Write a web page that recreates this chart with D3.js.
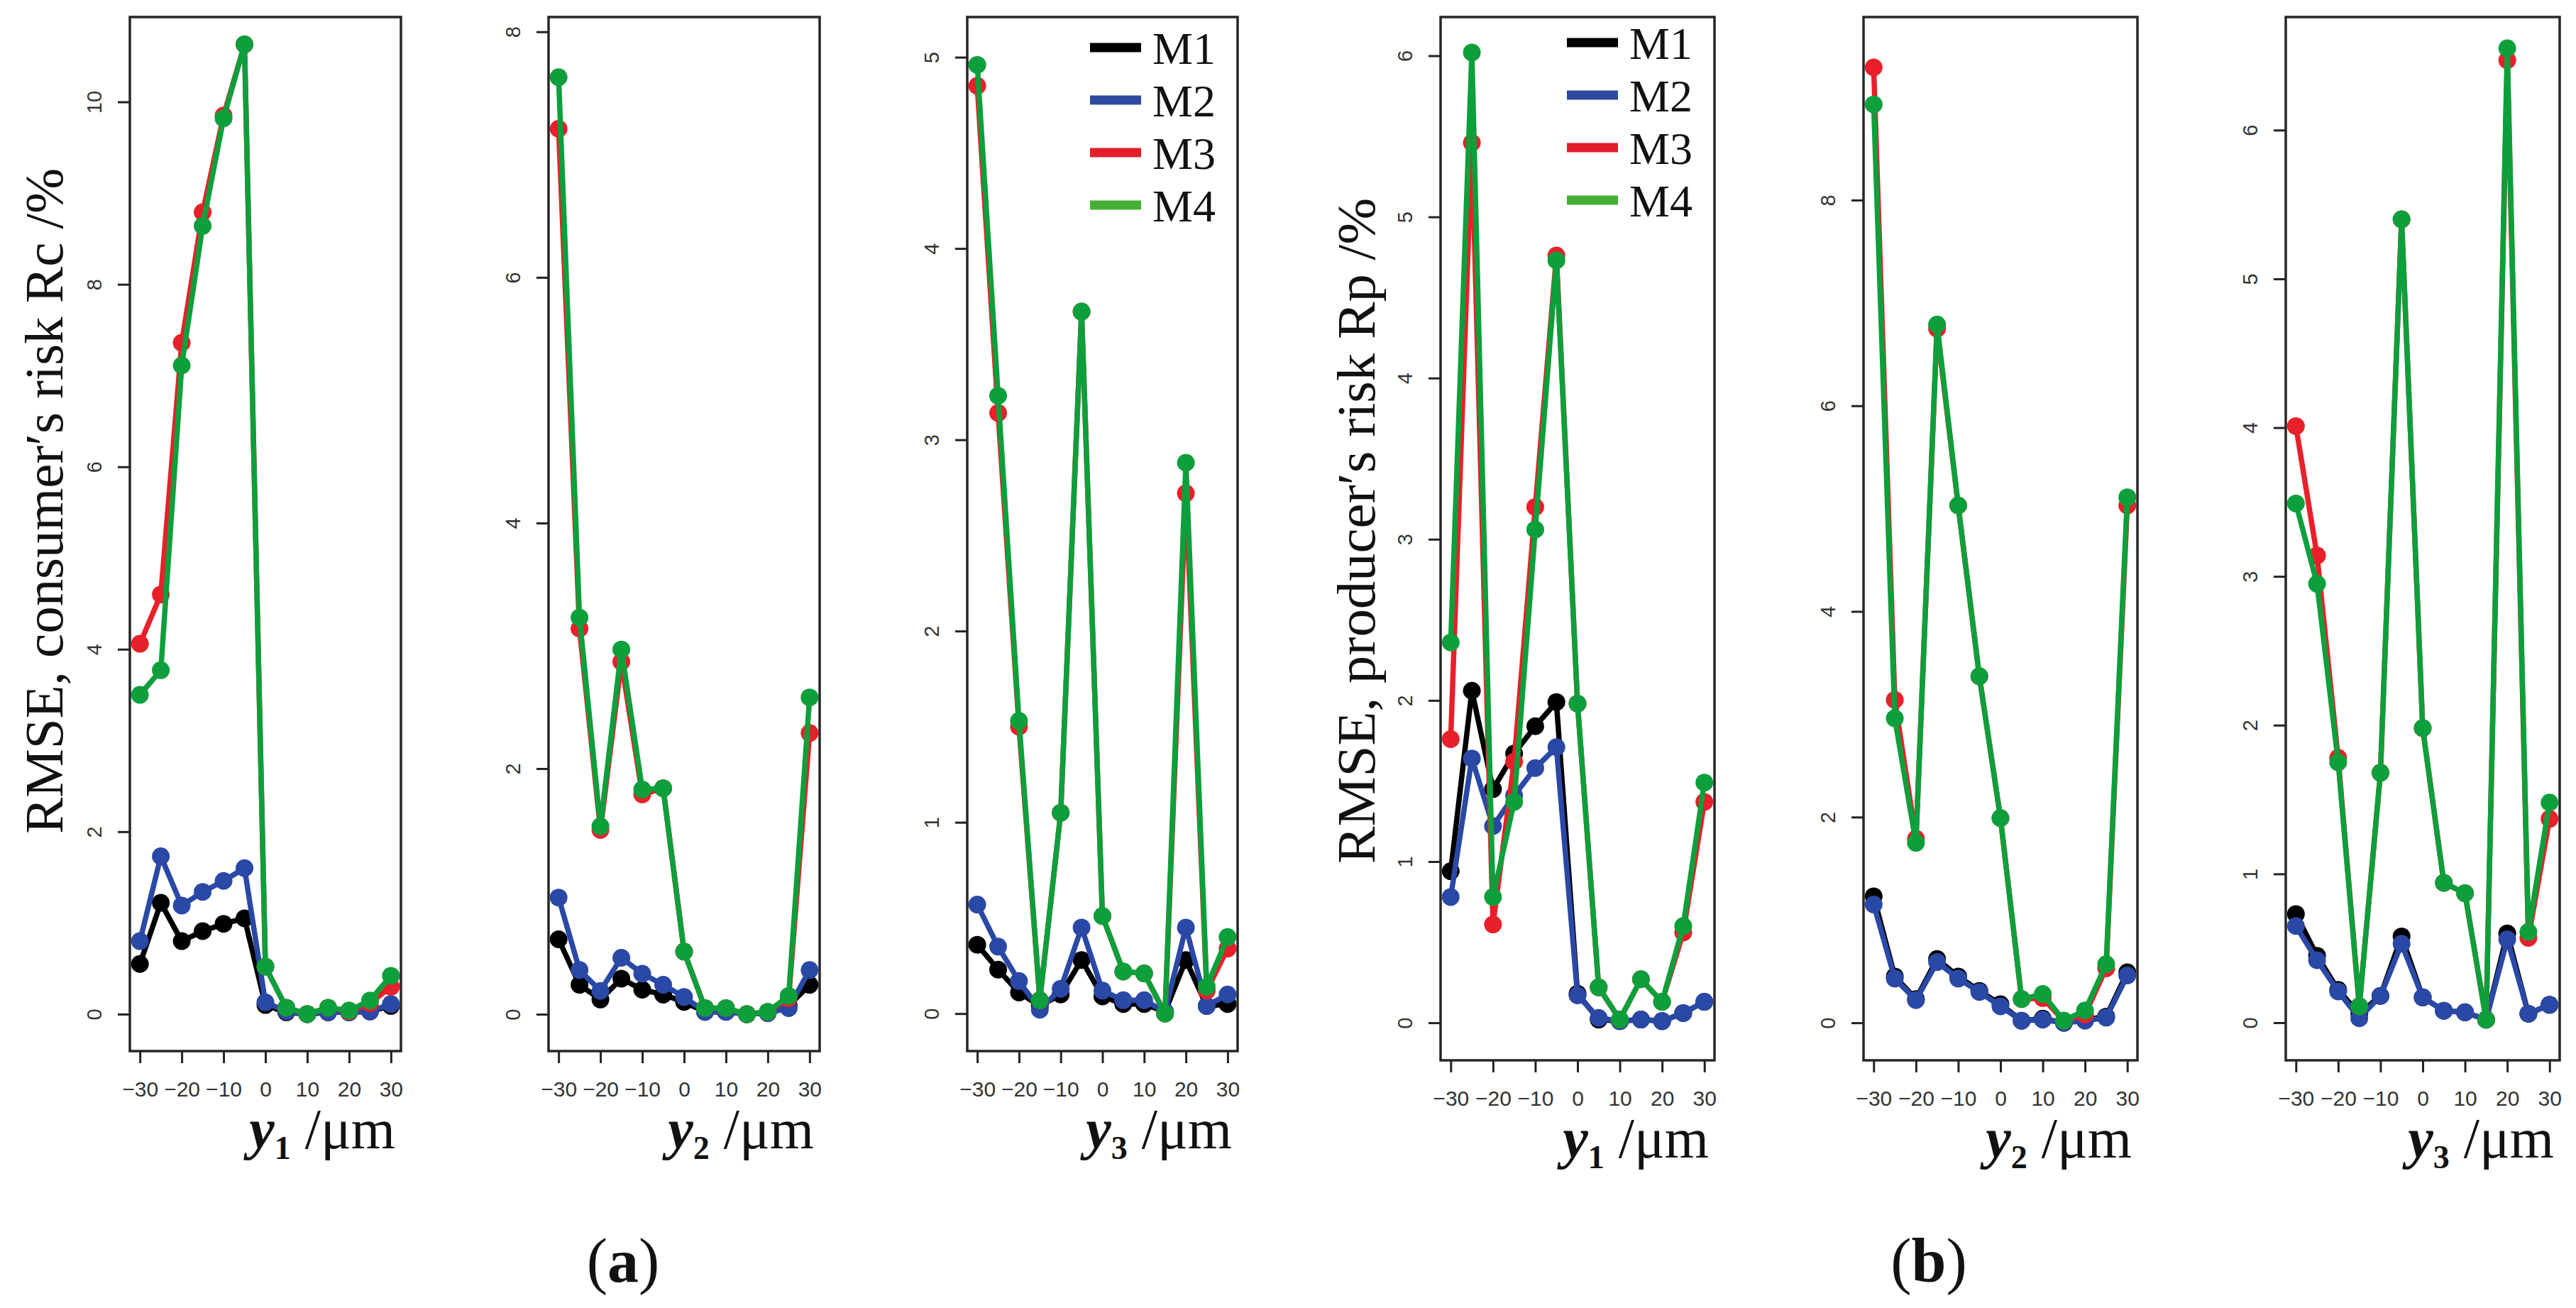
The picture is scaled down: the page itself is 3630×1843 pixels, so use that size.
<!DOCTYPE html>
<html>
<head>
<meta charset="utf-8">
<script src="https://cdn.jsdelivr.net/npm/d3@7"></script>
<style>
  body { margin: 0; background: #fff; }
</style>
</head>
<body>
<script>
// shared x positions (um) and tick labels
var xVals = [-30, -25, -20, -15, -10, -5, 0, 5, 10, 15, 20, 25, 30];
var xTicks = [-30, -20, -10, 0, 10, 20, 30];
var seriesNames = ["M1", "M2", "M3", "M4"];

// consumer's risk Rc, y1
var rcY1_M1 = [0.55, 1.22, 0.80, 0.91, 0.99, 1.05, 0.10, 0.02, 0.00, 0.02, 0.02, 0.03, 0.09];
var rcY1_M2 = [0.80, 1.73, 1.19, 1.34, 1.46, 1.60, 0.13, 0.03, 0.00, 0.02, 0.02, 0.03, 0.11];
var rcY1_M3 = [4.06, 4.60, 7.36, 8.79, 9.85, 10.63, 0.52, 0.07, 0.00, 0.07, 0.03, 0.12, 0.30];
var rcY1_M4 = [3.50, 3.77, 7.11, 8.64, 9.82, 10.63, 0.52, 0.07, 0.00, 0.07, 0.04, 0.15, 0.42];
// consumer's risk Rc, y2
var rcY2_M1 = [0.61, 0.24, 0.12, 0.29, 0.20, 0.16, 0.10, 0.02, 0.02, 0.00, 0.01, 0.07, 0.24];
var rcY2_M2 = [0.95, 0.36, 0.19, 0.46, 0.33, 0.24, 0.14, 0.02, 0.02, 0.00, 0.01, 0.05, 0.36];
var rcY2_M3 = [7.21, 3.14, 1.50, 2.87, 1.79, 1.84, 0.51, 0.05, 0.05, 0.00, 0.02, 0.13, 2.29];
var rcY2_M4 = [7.63, 3.23, 1.53, 2.97, 1.83, 1.84, 0.51, 0.05, 0.05, 0.00, 0.02, 0.15, 2.58];
// consumer's risk Rc, y3
var rcY3_M1 = [0.36, 0.23, 0.11, 0.04, 0.10, 0.28, 0.09, 0.05, 0.05, 0.01, 0.28, 0.04, 0.05];
var rcY3_M2 = [0.57, 0.35, 0.17, 0.02, 0.13, 0.45, 0.12, 0.07, 0.07, 0.01, 0.45, 0.04, 0.10];
var rcY3_M3 = [4.85, 3.14, 1.50, 0.07, 1.05, 3.67, 0.51, 0.22, 0.21, 0.00, 2.72, 0.12, 0.34];
var rcY3_M4 = [4.96, 3.23, 1.53, 0.07, 1.05, 3.67, 0.51, 0.22, 0.21, 0.00, 2.88, 0.14, 0.40];
// producer's risk Rp, y1
var rpY1_M1 = [0.94, 2.06, 1.45, 1.67, 1.84, 1.99, 0.18, 0.02, 0.01, 0.02, 0.01, 0.06, 0.13];
var rpY1_M2 = [0.78, 1.64, 1.22, 1.41, 1.58, 1.71, 0.17, 0.03, 0.01, 0.02, 0.01, 0.06, 0.13];
var rpY1_M3 = [1.76, 5.46, 0.61, 1.62, 3.20, 4.76, 1.98, 0.22, 0.02, 0.27, 0.13, 0.56, 1.37];
var rpY1_M4 = [2.36, 6.02, 0.78, 1.37, 3.06, 4.73, 1.98, 0.22, 0.02, 0.27, 0.13, 0.60, 1.49];
// producer's risk Rp, y2
var rpY2_M1 = [1.23, 0.45, 0.23, 0.62, 0.45, 0.31, 0.18, 0.02, 0.04, 0.00, 0.03, 0.06, 0.49];
var rpY2_M2 = [1.15, 0.43, 0.22, 0.59, 0.43, 0.30, 0.16, 0.02, 0.03, 0.00, 0.02, 0.05, 0.46];
var rpY2_M3 = [9.29, 3.14, 1.79, 6.75, 5.03, 3.37, 1.99, 0.23, 0.24, 0.02, 0.08, 0.53, 5.03];
var rpY2_M4 = [8.93, 2.96, 1.75, 6.79, 5.03, 3.37, 1.99, 0.23, 0.28, 0.02, 0.12, 0.57, 5.11];
// producer's risk Rp, y3
var rpY3_M1 = [0.73, 0.45, 0.22, 0.06, 0.18, 0.58, 0.17, 0.08, 0.07, 0.02, 0.60, 0.06, 0.12];
var rpY3_M2 = [0.65, 0.42, 0.21, 0.03, 0.18, 0.53, 0.17, 0.08, 0.07, 0.02, 0.56, 0.06, 0.12];
var rpY3_M3 = [4.01, 3.14, 1.78, 0.11, 1.68, 5.40, 1.98, 0.94, 0.87, 0.02, 6.47, 0.57, 1.37];
var rpY3_M4 = [3.49, 2.95, 1.75, 0.11, 1.68, 5.40, 1.98, 0.94, 0.87, 0.02, 6.55, 0.61, 1.48];

// y tick labels per panel
var yTicksRcY1 = [0, 2, 4, 6, 8, 10];
var yTicksRcY2 = [0, 2, 4, 6, 8];
var yTicksRcY3 = [0, 1, 2, 3, 4, 5];
var yTicksRpY1 = [0, 1, 2, 3, 4, 5, 6];
var yTicksRpY2 = [0, 2, 4, 6, 8];
var yTicksRpY3 = [0, 1, 2, 3, 4, 5, 6];

window.onload = function(){
    var w = 3630, h = 1843;
    var lineColors = ["#000000", "#2a48a5", "#e8202a", "#0d9f3b"];
    var legendColors = ["#000000", "#2e4aa0", "#e31e2b", "#45b035"];

    //panel layout, one entry per small plot
    var panels = [
        { left: 183,  top: 24, bottom: 1481, width: 382, ylo: -0.405, yhi: 10.93, sub: "1", yTicks: yTicksRcY1,
          series: [rcY1_M1, rcY1_M2, rcY1_M3, rcY1_M4] },
        { left: 773,  top: 24, bottom: 1481, width: 382, ylo: -0.30, yhi: 8.12, sub: "2", yTicks: yTicksRcY2,
          series: [rcY2_M1, rcY2_M2, rcY2_M3, rcY2_M4] },
        { left: 1363, top: 24, bottom: 1481, width: 381, ylo: -0.196, yhi: 5.21, sub: "3", yTicks: yTicksRcY3,
          series: [rcY3_M1, rcY3_M2, rcY3_M3, rcY3_M4], legend: 43 },
        { left: 2030, top: 24, bottom: 1494, width: 386, ylo: -0.233, yhi: 6.24, sub: "1", yTicks: yTicksRpY1,
          series: [rpY1_M1, rpY1_M2, rpY1_M3, rpY1_M4], legend: 36 },
        { left: 2626, top: 24, bottom: 1494, width: 386, ylo: -0.365, yhi: 9.78, sub: "2", yTicks: yTicksRpY2,
          series: [rpY2_M1, rpY2_M2, rpY2_M3, rpY2_M4] },
        { left: 3221, top: 24, bottom: 1494, width: 386, ylo: -0.253, yhi: 6.76, sub: "3", yTicks: yTicksRpY3,
          series: [rpY3_M1, rpY3_M2, rpY3_M3, rpY3_M4] }
    ];

    var svg = d3.select("body")
        .append("svg")
        .attr("width", w)
        .attr("height", h)
        .style("background-color", "#ffffff");

    panels.forEach(function(p){
        var g = svg.append("g").attr("transform", "translate(" + p.left + "," + p.top + ")");
        var ph = p.bottom - p.top;

        var x = d3.scaleLinear().domain([-32.4, 32.4]).range([0, p.width]);
        var y = d3.scaleLinear().domain([p.ylo, p.yhi]).range([ph, 0]);

        //y axis, R style rotated labels
        var yAxis = g.append("g")
            .call(d3.axisLeft(y).tickValues(p.yTicks).tickSize(17).tickFormat(d3.format("d")));
        yAxis.select(".domain").remove();
        yAxis.selectAll("line").attr("stroke", "#222").attr("stroke-width", 3);
        yAxis.selectAll("text")
            .attr("x", null).attr("dy", null)
            .attr("transform", "translate(-40,0) rotate(-90)")
            .attr("text-anchor", "middle")
            .style("font-family", "'Liberation Sans', Arial, sans-serif")
            .style("font-size", "29px")
            .attr("fill", "#333");

        //x axis
        var xAxis = g.append("g")
            .attr("transform", "translate(0," + ph + ")")
            .call(d3.axisBottom(x).tickValues(xTicks).tickSize(17).tickFormat(d3.format("d")));
        xAxis.select(".domain").remove();
        xAxis.selectAll("line").attr("stroke", "#222").attr("stroke-width", 3);
        xAxis.selectAll("text")
            .attr("y", 64).attr("dy", null)
            .style("font-family", "'Liberation Sans', Arial, sans-serif")
            .style("font-size", "30px")
            .attr("fill", "#333");

        //series: line then points, M4 ends up on top
        var line = d3.line()
            .x(function(d, i){ return x(xVals[i]); })
            .y(function(d){ return y(d); });

        p.series.forEach(function(vals, si){
            g.append("path")
                .datum(vals)
                .attr("d", line)
                .attr("fill", "none")
                .attr("stroke", lineColors[si])
                .attr("stroke-width", 7.5)
                .attr("stroke-linejoin", "round");
            g.selectAll(".pt" + si)
                .data(vals)
                .enter()
                .append("circle")
                .attr("class", "pt" + si)
                .attr("cx", function(d, i){ return x(xVals[i]); })
                .attr("cy", function(d){ return y(d); })
                .attr("r", 12.5)
                .attr("fill", lineColors[si]);
        });

        //frame
        g.append("rect")
            .attr("width", p.width)
            .attr("height", ph)
            .attr("fill", "none")
            .attr("stroke", "#262626")
            .attr("stroke-width", 3.5);

        //x label: y_n /µm
        var xl = g.append("text")
            .attr("x", p.width - 8)
            .attr("y", ph + 137)
            .attr("text-anchor", "end")
            .style("font-family", "'Liberation Serif', 'Times New Roman', serif")
            .style("font-size", "80px")
            .attr("fill", "#111");
        xl.append("tspan").text("y").style("font-style", "italic").style("font-weight", "bold");
        xl.append("tspan").text(p.sub).attr("dy", 15).style("font-size", "46px").style("font-weight", "bold");
        xl.append("tspan").text(" /\u03bcm").attr("dy", -15);

        //legend
        if (p.legend !== undefined) {
            var lg = g.append("g");
            seriesNames.forEach(function(name, i){
                var ly = p.legend + i * 74;
                lg.append("line")
                    .attr("x1", p.width - 208).attr("x2", p.width - 136)
                    .attr("y1", ly).attr("y2", ly)
                    .attr("stroke", legendColors[i])
                    .attr("stroke-width", 13);
                lg.append("text")
                    .attr("x", p.width - 120)
                    .attr("y", ly + 23)
                    .style("font-family", "'Liberation Serif', 'Times New Roman', serif")
                    .style("font-size", "64px")
                    .attr("fill", "#111")
                    .text(name);
            });
        }
    });

    //y axis titles
    var yTitles = [
        { x: 88, y: 706, text: "RMSE, consumer\u2032s risk Rc /%" },
        { x: 1937, y: 748, text: "RMSE, producer\u2032s risk Rp /%" }
    ];
    yTitles.forEach(function(t){
        svg.append("text")
            .attr("transform", "translate(" + t.x + "," + t.y + ") rotate(-90)")
            .attr("text-anchor", "middle")
            .attr("textLength", 938)
            .attr("lengthAdjust", "spacingAndGlyphs")
            .style("font-family", "'Liberation Serif', 'Times New Roman', serif")
            .style("font-size", "76px")
            .attr("fill", "#111")
            .text(t.text);
    });

    //sub-figure tags
    var tags = [ { x: 878, letter: "a" }, { x: 2718, letter: "b" } ];
    tags.forEach(function(t){
        var tt = svg.append("text")
            .attr("x", t.x)
            .attr("y", 1806)
            .attr("text-anchor", "middle")
            .style("font-family", "'Liberation Serif', 'Times New Roman', serif")
            .style("font-size", "88px")
            .attr("fill", "#111");
        tt.append("tspan").text("(");
        tt.append("tspan").text(t.letter).style("font-weight", "bold");
        tt.append("tspan").text(")");
    });
};
</script>
</body>
</html>
